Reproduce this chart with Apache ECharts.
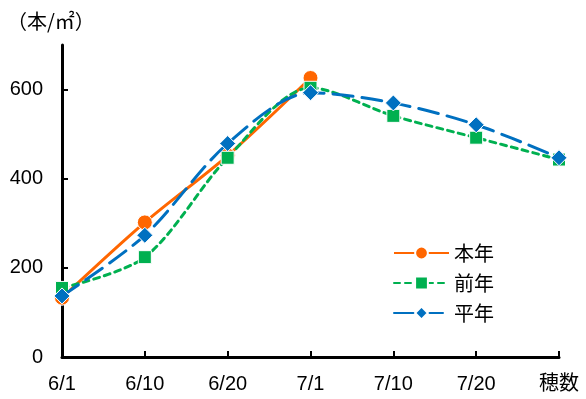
<!DOCTYPE html>
<html>
<head>
<meta charset="utf-8">
<script src="https://cdn.jsdelivr.net/npm/echarts@6/dist/echarts.min.js"></script>
<style>
  html, body { margin: 0; padding: 0; background: #fff; }
  #chart { width: 586px; height: 399px; }
</style>
</head>
<body>
<div id="chart"></div>
<script>
// Stem counts per square metre by survey date
const categories = ['6/1', '6/10', '6/20', '7/1', '7/10', '7/20', '穂数'];
const thisYear = [133, 302, 452, 626, null, null, null];
const lastYear = [155, 224, 447, 604, 541, 492, 443];
const normalYear = [137, 273, 479, 593, 570, 521, 447];
const yTicks = [0, 200, 400, 600];

const FONT = '"Liberation Sans", "Noto Sans CJK JP", sans-serif';

const chart = echarts.init(document.getElementById('chart'));
chart.setOption({
  animation: false,
  backgroundColor: '#fff',
  grid: { left: 62, right: 27, top: 45, bottom: 42 },
  graphic: [{
    type: 'text', left: 7, top: 11,
    style: { text: '（本/㎡）', font: '20px "Noto Sans CJK JP", sans-serif', fill: '#000' }
  }],
  legend: {
    orient: 'vertical', left: 388, top: 238,
    itemWidth: 55, itemHeight: 16, itemGap: 10,
    textStyle: { fontFamily: '"Noto Sans CJK JP", sans-serif', fontSize: 20, color: '#000' },
    data: ['本年', '前年', '平年']
  },
  xAxis: {
    type: 'category', data: categories, boundaryGap: false,
    axisLine: { lineStyle: { color: '#000', width: 3 } },
    axisTick: { inside: true, length: 6, lineStyle: { color: '#000', width: 2 } },
    axisLabel: { color: '#000', fontFamily: FONT, fontSize: 20, margin: 17 },
    splitLine: { show: false }
  },
  yAxis: {
    type: 'value', min: 0, max: 700, interval: 200,
    axisLine: { show: true, lineStyle: { color: '#000', width: 3 } },
    axisTick: { show: true, inside: true, length: 6, customValues: yTicks, lineStyle: { color: '#000', width: 2 } },
    axisLabel: { color: '#000', fontFamily: FONT, fontSize: 20, margin: 19, customValues: yTicks },
    splitLine: { show: false }
  },
  series: [
    {
      name: '本年', type: 'line', data: thisYear, smooth: 0.3, z: 2,
      symbol: 'circle', symbolSize: 15,
      itemStyle: { color: '#FF6600', borderColor: '#fff', borderWidth: 1 },
      lineStyle: { color: '#FF6600', width: 3 }
    },
    {
      name: '前年', type: 'line', data: lastYear, smooth: 0.3, z: 3,
      symbol: 'rect', symbolSize: 13,
      itemStyle: { color: '#00B050', borderColor: '#fff', borderWidth: 1 },
      lineStyle: { color: '#00B050', width: 3, type: [6, 5], cap: 'round' }
    },
    {
      name: '平年', type: 'line', data: normalYear, smooth: 0.3, z: 4,
      symbol: 'diamond', symbolSize: 16,
      itemStyle: { color: '#0070C0', borderColor: '#fff', borderWidth: 1 },
      lineStyle: { color: '#0070C0', width: 3, type: [20, 9], cap: 'round' }
    }
  ]
});
</script>
</body>
</html>
